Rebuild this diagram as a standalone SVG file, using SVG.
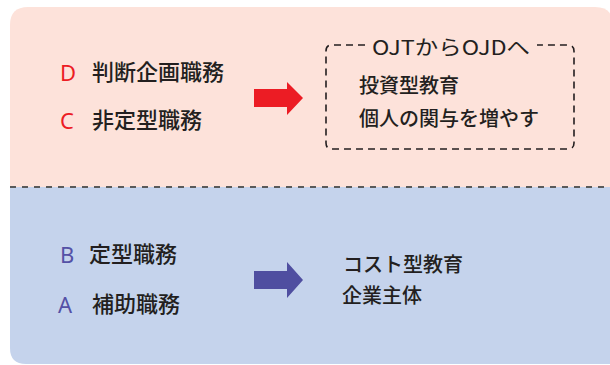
<svg xmlns="http://www.w3.org/2000/svg" width="610" height="365" viewBox="0 0 610 365">
  <defs>
    <style>
      .jp { font-family: "Noto Sans CJK JP", "Noto Sans", sans-serif; fill: #231f20; }
      .lbl { font-size: 22px; font-weight: 500; }
      .txt { font-size: 20px; font-weight: 500; }
      .ltr { font-family: "Noto Sans", "DejaVu Sans", sans-serif; font-weight: 400; font-size: 22px; }
      .red { fill: #ec1c24; }
      .blu { fill: #5451a6; }
    </style>
  </defs>
  <rect width="610" height="365" fill="#ffffff"/>
  <g id="background">
    <path d="M 10 187 L 10 25 Q 10 7 28 7 L 595 7 Q 613 7 613 25 L 613 187 Z" fill="#fde2da"/>
    <path d="M 10 187 L 613 187 L 613 364 L 26 364 Q 10 364 10 348 Z" fill="#c5d3ec"/>
    <line x1="10" y1="187" x2="610" y2="187" stroke="#5a5a5a" stroke-width="2" stroke-dasharray="6 6"/>
  </g>
  <g id="node-D">
    <text class="ltr red" x="60" y="81">D</text>
    <text class="jp lbl" x="92" y="80">判断企画職務</text>
  </g>
  <g id="node-C">
    <text class="ltr red" x="60" y="129">C</text>
    <text class="jp lbl" x="92" y="128">非定型職務</text>
  </g>
  <g id="node-B">
    <text class="ltr blu" x="60" y="263">B</text>
    <text class="jp lbl" x="89" y="262">定型職務</text>
  </g>
  <g id="node-A">
    <text class="ltr blu" x="58" y="313">A</text>
    <text class="jp lbl" x="92" y="312">補助職務</text>
  </g>
  <g id="node-OJD">
    <path d="M 365 45 L 332 45 Q 326 45 326 51 L 326 143 Q 326 149 332 149 L 568 149 Q 574 149 574 143 L 574 51 Q 574 45 568 45 L 537 45" fill="none" stroke="#231f20" stroke-width="1.6" stroke-dasharray="7 5"/>
    <text class="jp" x="372" y="55" font-size="20" font-weight="400" textLength="158" lengthAdjust="spacingAndGlyphs">OJTからOJDへ</text>
    <text class="jp txt" x="359" y="93">投資型教育</text>
    <text class="jp txt" x="359" y="126">個人の関与を増やす</text>
  </g>
  <g id="node-cost">
    <text class="jp txt" x="343" y="272" font-size="20.4">コスト型教育</text>
    <text class="jp txt" x="342" y="303">企業主体</text>
  </g>
  <g id="connectors">
    <polygon points="254,89 287,89 287,82 303,98 287,115 287,107 254,107" fill="#ec1c24"/>
    <polygon points="254,271 287,271 287,262 303,280 287,298 287,289 254,289" fill="#4f4ea0"/>
  </g>
</svg>
